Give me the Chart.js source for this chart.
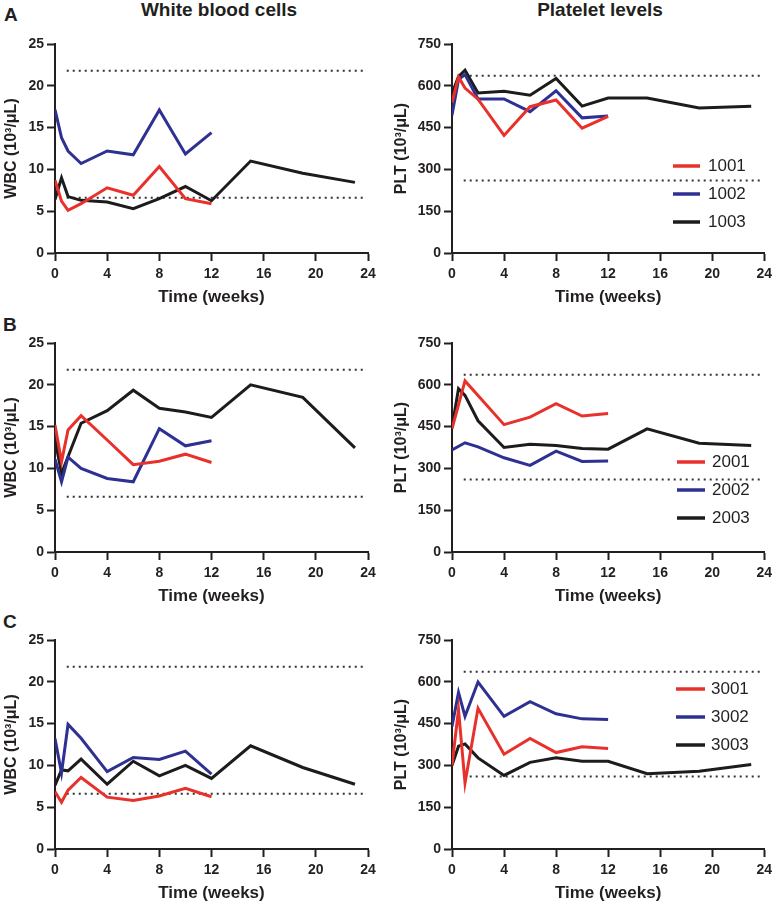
<!DOCTYPE html>
<html><head><meta charset="utf-8">
<script src="https://cdn.jsdelivr.net/npm/chart.js@4.4.1/dist/chart.umd.min.js"></script>
<style>
html,body{margin:0;padding:0;background:#fff;}
body{width:777px;height:907px;position:relative;overflow:hidden;font-family:'Liberation Sans',Arial,Helvetica,sans-serif;color:#231f20;}
canvas{position:absolute;}
.hdr{position:absolute;font-weight:bold;font-size:19px;line-height:19px;white-space:nowrap;transform:translateX(-50%);}
.lt{position:absolute;font-weight:bold;font-size:19px;line-height:19px;}
</style></head><body>
<div class="hdr" style="left:219px;top:0px">White blood cells</div>
<div class="hdr" style="left:600px;top:0px">Platelet levels</div>
<div class="lt" style="left:4px;top:5px">A</div>
<div class="lt" style="left:3px;top:315px">B</div>
<div class="lt" style="left:3px;top:612px">C</div>
<canvas id="a1" width="388" height="285" style="left:0px;top:25px"></canvas>
<canvas id="a2" width="387" height="285" style="left:390px;top:25px"></canvas>
<canvas id="b1" width="388" height="285" style="left:0px;top:324px"></canvas>
<canvas id="b2" width="387" height="285" style="left:390px;top:324px"></canvas>
<canvas id="c1" width="388" height="285" style="left:0px;top:621px"></canvas>
<canvas id="c2" width="387" height="285" style="left:390px;top:621px"></canvas>
<script>
// ---------- DATA ----------
const timeLong  = [0, 0.5, 1, 2, 4, 6, 8, 10, 12, 15, 19, 23];
const timeShort = [0, 0.5, 1, 2, 4, 6, 8, 10, 12];

const wbcRefRange = [6.6, 21.8];
const pltRefRange = [260, 636];
const refTimeSpan = [0.9, 23.7];

const wbcTicks = [0, 25, 5];     // min, max, step
const pltTicks = [0, 750, 150];
const timeTicks = [0, 24, 4];

const patientsA = ['1001', '1002', '1003'];
const patientsB = ['2001', '2002', '2003'];
const patientsC = ['3001', '3002', '3003'];

// Panel A
const wbc1001 = [8.7, 6.2, 5.1, 5.9, 7.8, 6.9, 10.35, 6.5, 5.9];
const wbc1002 = [17.15, 13.8, 12.2, 10.7, 12.2, 11.75, 17.1, 11.85, 14.4];
const wbc1003 = [6.4, 9.0, 6.75, 6.3, 6.1, 5.3, 6.5, 7.95, 6.25, 11.0, 9.55, 8.45];
const plt1001 = [540, 632, 592, 552, 422, 525, 549, 448, 490];
const plt1002 = [494, 622, 640, 553, 553, 507, 582, 485, 492];
const plt1003 = [573, 633, 656, 574, 580, 566, 626, 527, 556, 556, 520, 527];

// Panel B
const wbc2001 = [15.2, 10.8, 14.6, 16.3, 13.4, 10.45, 10.85, 11.7, 10.7];
const wbc2002 = [11.1, 8.4, 11.35, 10.0, 8.8, 8.4, 14.75, 12.7, 13.3];
const wbc2003 = [13.5, 9.4, null, 15.4, 16.9, 19.35, 17.2, 16.75, 16.1, 20.0, 18.5, 12.45];
const plt2001 = [442, null, 614, 562, 457, 484, 532, 488, 497];
const plt2002 = [366, null, 392, 377, 338, 311, 362, 325, 327];
const plt2003 = [448, 586, 562, 471, 375, 387, 382, 371, 369, 442, 390, 382];

// Panel C
const wbc3001 = [6.85, 5.6, 7.05, 8.55, 6.2, 5.8, 6.35, 7.25, 6.25];
const wbc3002 = [13.2, 9.1, 14.9, 13.25, 9.25, 10.95, 10.7, 11.7, 8.95];
const wbc3003 = [7.6, 9.45, 9.35, 10.75, 7.75, 10.5, 8.75, 10.0, 8.45, 12.35, 9.75, 7.75];
const plt3001 = [300, 500, 237, 505, 340, 397, 346, 367, 361];
const plt3002 = [440, 562, 476, 599, 476, 529, 485, 467, 465];
const plt3003 = [300, 369, 377, 327, 264, 311, 327, 315, 315, 270, 279, 303];

// ---------- STYLE ----------
const FONT = "'Liberation Sans', Arial, Helvetica, sans-serif";
const INK = '#231f20';
const seriesColors = ['#e8312b', '#2e3192', '#1c1c1c'];

const insideLegend = {
  id: 'insideLegend',
  afterDatasetsDraw(chart, args, opts) {
    if (!opts || !opts.show) return;
    const ctx = chart.ctx;
    ctx.save();
    chart.data.datasets.filter(d => !d.isRef).forEach((d, i) => {
      const y = opts.y + i * opts.gap;
      ctx.strokeStyle = d.borderColor;
      ctx.lineWidth = 3.5;
      ctx.lineCap = 'butt';
      ctx.beginPath();
      ctx.moveTo(opts.x, y);
      ctx.lineTo(opts.x + opts.len, y);
      ctx.stroke();
      ctx.fillStyle = INK;
      ctx.font = '17px ' + FONT;
      ctx.textBaseline = 'middle';
      ctx.textAlign = 'left';
      ctx.fillText(d.label, opts.x + opts.len + opts.textGap, y + 0.5);
    });
    ctx.restore();
  }
};

function toPoints(times, vals) {
  const pts = [];
  vals.forEach((v, i) => { if (v !== null) pts.push({x: times[i], y: v}); });
  return pts;
}

function makeChart(id, opts) {
  const datasets = opts.series.map((s, i) => ({
    label: opts.labels[i],
    data: toPoints(s.length > timeShort.length ? timeLong : timeShort, s),
    borderColor: seriesColors[i],
    backgroundColor: seriesColors[i],
    borderWidth: 3,
    pointRadius: 0,
    tension: 0,
    fill: false,
    borderJoinStyle: 'miter',
    borderCapStyle: 'butt'
  }));
  opts.ref.forEach(r => {
    datasets.push({
      isRef: true,
      label: '',
      data: [{x: refTimeSpan[0], y: r}, {x: refTimeSpan[1], y: r}],
      borderColor: '#333',
      borderWidth: 2,
      borderDash: [2, 4],
      pointRadius: 0,
      fill: false
    });
  });
  const gridOpts = {display: true, drawOnChartArea: false, drawTicks: true, tickLength: 8, tickWidth: 2, tickColor: INK, color: INK};
  const borderOpts = {display: true, color: INK, width: 2};
  const tickFont = {family: FONT, size: 14, weight: 'bold'};
  new Chart(document.getElementById(id), {
    type: 'line',
    data: {datasets},
    plugins: [insideLegend],
    options: {
      responsive: false,
      animation: false,
      devicePixelRatio: 1,
      layout: {padding: {top: 19, right: opts.padRight, bottom: 0, left: 0}},
      plugins: {
        legend: {display: false},
        tooltip: {enabled: false},
        insideLegend: opts.legend
      },
      scales: {
        x: {
          type: 'linear', min: timeTicks[0], max: timeTicks[1],
          ticks: {stepSize: timeTicks[2], font: tickFont, color: INK, padding: 5, maxRotation: 0, autoSkip: false},
          grid: gridOpts, border: borderOpts,
          title: {display: true, text: 'Time (weeks)', color: INK, font: {family: FONT, size: 17, weight: 'bold'}, padding: {top: 0, bottom: 2}},
          afterFit: s => { s.height = 57; }
        },
        y: {
          type: 'linear', min: opts.yTicks[0], max: opts.yTicks[1],
          ticks: {stepSize: opts.yTicks[2], font: tickFont, color: INK, padding: 3},
          grid: gridOpts, border: borderOpts,
          title: {display: true, text: opts.yTitle, color: INK, font: {family: FONT, size: 16, weight: 'bold'}, padding: {top: 2, bottom: 0}},
          afterFit: s => { s.width = opts.yWidth; }
        }
      }
    }
  });
}

const wbcTitle = 'WBC (10\u00B3/\u03BCL)';
const pltTitle = 'PLT (10\u00B3/\u03BCL)';

makeChart('a1', {series: [wbc1001, wbc1002, wbc1003], labels: patientsA, yTicks: wbcTicks, yTitle: wbcTitle, ref: wbcRefRange, yWidth: 55, padRight: 20, legend: {show: false}});
makeChart('a2', {series: [plt1001, plt1002, plt1003], labels: patientsA, yTicks: pltTicks, yTitle: pltTitle, ref: pltRefRange, yWidth: 62, padRight: 10, legend: {show: true, x: 283, y: 141, gap: 28, len: 27, textGap: 8}});
makeChart('b1', {series: [wbc2001, wbc2002, wbc2003], labels: patientsB, yTicks: wbcTicks, yTitle: wbcTitle, ref: wbcRefRange, yWidth: 55, padRight: 20, legend: {show: false}});
makeChart('b2', {series: [plt2001, plt2002, plt2003], labels: patientsB, yTicks: pltTicks, yTitle: pltTitle, ref: pltRefRange, yWidth: 62, padRight: 10, legend: {show: true, x: 287, y: 138, gap: 28, len: 28, textGap: 7}});
makeChart('c1', {series: [wbc3001, wbc3002, wbc3003], labels: patientsC, yTicks: wbcTicks, yTitle: wbcTitle, ref: wbcRefRange, yWidth: 55, padRight: 20, legend: {show: false}});
makeChart('c2', {series: [plt3001, plt3002, plt3003], labels: patientsC, yTicks: pltTicks, yTitle: pltTitle, ref: pltRefRange, yWidth: 62, padRight: 10, legend: {show: true, x: 286, y: 68, gap: 28, len: 29, textGap: 6}});
</script>
</body></html>
